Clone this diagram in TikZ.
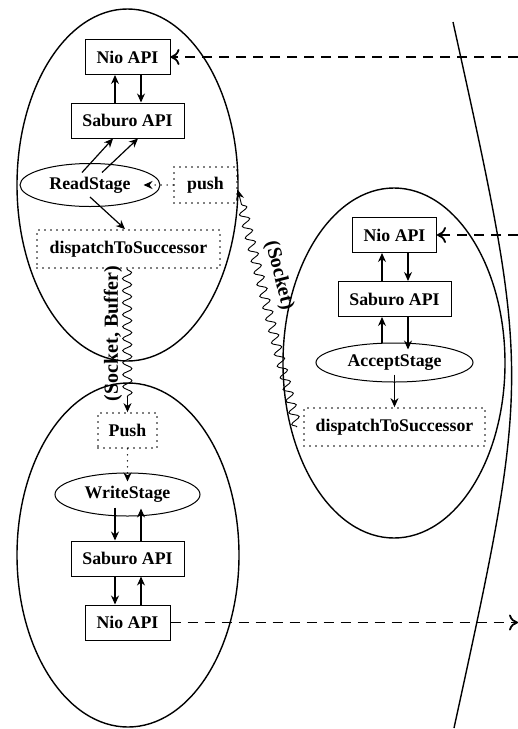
\documentclass[tikz,border=0pt]{standalone}
\usepackage{fontspec}
\setmainfont{Liberation Serif}
\usetikzlibrary{arrows.meta,shapes.geometric,decorations.pathmorphing}

\begin{document}
\begin{tikzpicture}[x=0.5pt, y=-0.5pt, line width=0.6pt,
  every node/.style={font=\fontsize{8.9}{10}\selectfont\bfseries},
  apibox/.style={draw, rectangle, line width=0.5pt, minimum height=17.5pt, inner sep=0pt},
  stagebox/.style={draw, ellipse, line width=0.5pt, inner sep=0pt},
  hookbox/.style={draw, rectangle, line width=0.9pt, line cap=round, dash pattern=on 0pt off 3pt, inner sep=0pt},
  wire/.style={-{Stealth[length=4.5pt,width=4pt]}},
  hint/.style={-{Stealth[length=4.5pt,width=4pt]}, line width=0.8pt, line cap=round, dash pattern=on 0pt off 3pt},
  wave/.style={-{Stealth[length=4.5pt,width=4pt]}, line width=0.45pt, decorate,
    decoration={snake, amplitude=2.3pt, segment length=6pt, post length=5pt}},
  net/.style={-{To[length=4.5pt,width=8pt]}, line width=0.9pt, dash pattern=on 5pt off 3.5pt},
  wavelabel/.style={font=\fontsize{10}{12}\selectfont\bfseries}]
\def \lx {127.5}
\def \rx {394.5}
\useasboundingbox (0,0) rectangle (518,729);

% hosts
\draw[line width=0.7pt] (\lx,185) ellipse (110.5 and 176);
\draw[line width=0.7pt] (128,555) ellipse (111 and 172);
\draw[line width=0.7pt] (394,363) ellipse (111 and 175);
\draw[line width=0.7pt] (453,22) .. controls (531,375) .. (454,728);

% reader
\node[apibox, minimum width=42.5pt] at (\lx, 57) (niotop) {Nio API};
\node[apibox, minimum width=56.5pt] at (\lx, 120.5) (sabtop) {Saburo API};
\node[stagebox, minimum width=70pt, minimum height=21.5pt] at (90, 185) (readst) {ReadStage};
\node[hookbox, minimum width=31.5pt, minimum height=18pt] at (205.5, 185) (pushtop) {push};
\node[hookbox, minimum width=91.5pt, minimum height=19pt] at (128.5, 249) (disptop) {dispatchToSuccessor};
\draw[wire] ([xshift=-6.25pt]sabtop.north) -- ([xshift=-6.25pt]niotop.south);
\draw[wire] ([xshift=6.75pt]niotop.south) -- ([xshift=6.75pt]sabtop.north);
\draw[wire] ([xshift=-4pt,yshift=-4.75pt]readst.north) -- ([xshift=-7.25pt]sabtop.south);
\draw[wire] ([xshift=6pt,yshift=-4.75pt]readst.north) -- ([xshift=5.25pt]sabtop.south);
\draw[wire] ([yshift=-6pt]readst.center) -- ([xshift=-1.75pt]disptop.north);
\draw[hint] (pushtop.west) -- ([xshift=-8.5pt]readst.east);

% acceptor
\node[apibox, minimum width=42pt] at (\rx, 235) (nioacc) {Nio API};
\node[apibox, minimum width=56.5pt] at (\rx, 299) (sabacc) {Saburo API};
\node[stagebox, minimum width=78.5pt, minimum height=19.5pt] at (\rx, 362.5) (acceptst) {AcceptStage};
\node[hookbox, minimum width=90.5pt, minimum height=19pt] at (\rx, 427) (dispacc) {dispatchToSuccessor};
\draw[wire] ([xshift=-6.25pt]sabacc.north) -- ([xshift=-6.25pt]nioacc.south);
\draw[wire] ([xshift=6.75pt]nioacc.south) -- ([xshift=6.75pt]sabacc.north);
\draw[wire] ([xshift=-6.25pt]acceptst.north) -- ([xshift=-6.25pt]sabacc.south);
\draw[wire] ([xshift=6.75pt]sabacc.south) -- ([xshift=6.75pt,yshift=-3.5pt]acceptst.north);
\draw[wire] ([yshift=4pt]acceptst.south) -- (dispacc.north);

% writer
\node[hookbox, minimum width=29.5pt, minimum height=17.5pt] at (\lx, 430.5) (pushbot) {Push};
\node[stagebox, minimum width=72.5pt, minimum height=21.5pt] at (\lx, 494.5) (writest) {WriteStage};
\node[apibox, minimum width=56.5pt] at (\lx, 558.5) (sabbot) {Saburo API};
\node[apibox, minimum width=42.5pt] at (\lx, 622.5) (niobot) {Nio API};
\draw[hint] (pushbot.south) -- ([yshift=-4.5pt]writest.north);
\draw[wire] ([xshift=-6.25pt,yshift=4.5pt]writest.south) -- ([xshift=-6.25pt]sabbot.north);
\draw[wire] ([xshift=6.75pt]sabbot.north) -- ([xshift=6.75pt,yshift=4pt]writest.south);
\draw[wire] ([xshift=-6.25pt]sabbot.south) -- ([xshift=-6.25pt]niobot.north);
\draw[wire] ([xshift=6.75pt]niobot.north) -- ([xshift=6.75pt]sabbot.south);

% network
\coordinate (edgetop) at (518, 57);
\coordinate (edgemid) at (518, 235);
\coordinate (edgebot) at (518, 622.5);
\draw[net] (edgetop) -- (niotop.east);
\draw[net] (edgemid) -- (nioacc.east);
\draw[net] (niobot.east) -- (edgebot);

% handoffs
\draw[wave] ([xshift=-3pt]dispacc.west) -- ([yshift=-2.5pt]pushtop.east)
  node[pos=0.62, sloped, above, yshift=1.5pt, wavelabel] {(Socket)};
\draw[wave] ([xshift=-0.75pt]disptop.south) -- (pushbot.north)
  node[pos=0.45, rotate=90, anchor=south, yshift=-1pt, wavelabel] {(Socket, Buffer)};
\end{tikzpicture}
\end{document}
